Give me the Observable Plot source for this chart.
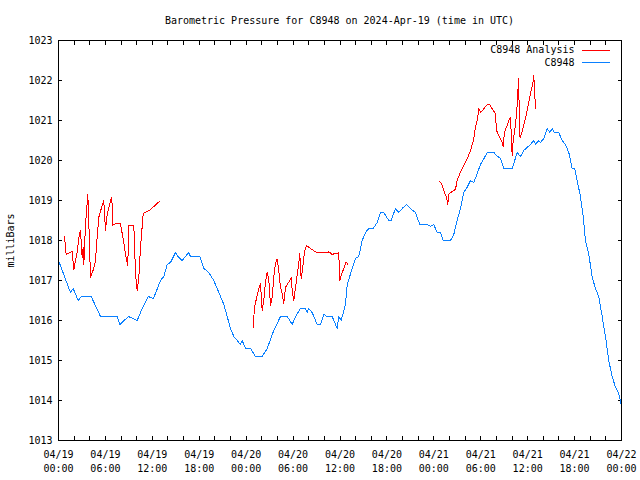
<!DOCTYPE html>
<html>
<head>
<meta charset="utf-8">
<script src="https://cdn.jsdelivr.net/npm/d3@7"></script>
<script src="https://cdn.jsdelivr.net/npm/@observablehq/plot@0.6"></script>
<style>
  html, body { margin: 0; padding: 0; background: #fff; }
  #title { box-sizing: border-box; width: 640px; height: 30px; padding: 15px 19px 0 58px;
           line-height: 12px; text-align: center; font: 10px "DejaVu Sans Mono", monospace; color: #000; white-space: nowrap; }
  svg path, svg rect, svg line { shape-rendering: crispEdges; }
</style>
</head>
<body>
<div id="title"></div>
<div id="chart"></div>
<script>
const titleText = "Barometric Pressure for C8948 on 2024-Apr-19 (time in UTC)";
const yLabel = "milliBars";
const legendLabels = ["C8948 Analysis", "C8948"];
const seriesColors = ["#ff0000", "#0a80ff"];
const yTicks = [1013, 1014, 1015, 1016, 1017, 1018, 1019, 1020, 1021, 1022, 1023];
const startDate = "2024-04-19T00:00:00Z";
const endDate = "2024-04-22T00:00:00Z";

// C8948 observations: hours since 2024-04-19 00:00 UTC, pressure in mb
const obsHours = [0,1.53,1.88,2.52,2.9,4.18,5.37,7.5,7.84,8.95,
  10.06,10.7,11.47,12.15,13.04,13.47,13.9,14.32,14.96,15.26,
  15.82,16.24,16.66,16.88,18.07,18.58,19.22,19.86,20.29,20.72,
  21.14,21.57,22.0,22.42,22.85,23.27,23.49,23.91,24.55,25.19,
  26.05,26.69,27.53,28.39,29.25,29.89,30.31,30.95,31.59,31.8,
  32.01,32.44,33.08,33.5,33.93,34.36,35.0,35.64,35.84,36.15,
  36.7,36.92,37.56,37.98,38.4,38.84,39.26,39.68,40.24,40.75,
  41.18,41.6,42.24,42.54,43.09,43.52,43.95,44.5,45.01,45.65,
  46.2,47.15,47.57,47.99,48.43,48.85,49.19,50.13,50.55,50.98,
  51.41,51.83,52.26,52.69,53.11,53.54,53.96,54.39,54.82,55.67,
  56.18,56.52,56.94,58.02,58.66,59.08,59.5,59.94,60.36,60.78,
  61.0,61.42,61.64,62.06,62.49,62.83,63.13,63.43,63.98,64.41,
  64.83,65.26,65.69,66.02,66.33,66.75,67.1,67.39,67.81,68.25,
  68.67,69.09,69.53,69.95,70.37,70.8,71.23,71.65,71.96];
const obsPressure = [1017.5,1016.7,1016.8,1016.5,1016.6,1016.6,1016.1,1016.1,1015.9,1016.1,
  1016.0,1016.3,1016.6,1016.55,1017.0,1017.1,1017.4,1017.45,1017.7,1017.6,
  1017.5,1017.6,1017.7,1017.6,1017.6,1017.3,1017.2,1017.0,1016.8,1016.6,
  1016.4,1016.1,1015.8,1015.6,1015.5,1015.4,1015.5,1015.3,1015.3,1015.1,
  1015.1,1015.3,1015.75,1016.1,1016.1,1015.9,1016.1,1016.3,1016.3,1016.2,
  1016.3,1016.2,1015.9,1015.9,1016.15,1016.1,1016.1,1015.8,1016.1,1016.0,
  1016.4,1016.9,1017.3,1017.55,1017.6,1018.0,1018.2,1018.3,1018.3,1018.45,
  1018.7,1018.7,1018.5,1018.5,1018.8,1018.7,1018.8,1018.9,1018.8,1018.7,
  1018.4,1018.4,1018.35,1018.4,1018.2,1018.2,1018.0,1018.0,1018.15,1018.5,
  1018.8,1019.2,1019.33,1019.5,1019.45,1019.67,1019.9,1020.04,1020.2,1020.2,
  1020.1,1020.05,1019.8,1019.8,1020.2,1020.1,1020.25,1020.33,1020.4,1020.5,
  1020.4,1020.5,1020.45,1020.55,1020.8,1020.7,1020.8,1020.7,1020.7,1020.5,
  1020.4,1020.2,1019.8,1019.8,1019.5,1019.1,1018.6,1018.0,1017.67,1017.08,
  1016.8,1016.6,1016.1,1015.6,1015.0,1014.6,1014.33,1014.17,1013.9];

// C8948 Analysis: three separate segments
const anaHours1 = [0.77,0.98,1.75,1.96,2.17,2.39,2.6,2.81,3.03,3.16,
  3.24,3.45,3.58,3.75,3.96,4.09,4.51,4.73,4.95,5.15,
  5.59,5.79,6.01,6.23,6.43,6.65,6.82,6.94,7.29,7.93,
  8.15,8.44,8.7,8.86,8.99,9.63,9.85,10.06,10.27,10.49,
  10.83,11.34,11.76,12.19,12.62,12.95];
const anaPressure1 = [1018.1,1017.65,1017.73,1017.27,1017.5,1017.7,1018.08,1018.25,1017.58,1017.83,
  1017.4,1018.4,1018.7,1019.15,1017.96,1017.08,1017.3,1017.5,1018.1,1018.58,
  1018.88,1019.0,1018.25,1018.67,1018.8,1019.0,1019.07,1018.38,1018.42,1018.42,
  1018.17,1017.83,1017.5,1017.38,1018.38,1018.38,1017.17,1016.75,1017.08,1017.83,
  1018.67,1018.73,1018.77,1018.85,1018.93,1018.98];
const anaHours2 = [24.9,25.06,25.41,25.61,25.83,26.05,26.25,26.47,26.69,26.89,
  27.11,27.33,27.53,27.75,27.97,28.17,28.39,28.61,28.81,29.03,
  29.45,29.8,29.89,30.09,30.31,30.52,30.73,30.86,31.04,31.24,
  31.46,31.71,32.01,32.44,33.08,34.36,34.57,35.0,35.42,35.84,
  35.97,36.28,36.48,36.79,37.0];
const anaPressure2 = [1015.83,1016.33,1016.63,1016.8,1016.92,1016.25,1016.5,1016.96,1017.2,1017.03,
  1016.38,1016.58,1017.08,1017.42,1017.54,1017.25,1016.83,1016.67,1016.42,1016.83,
  1016.96,1017.07,1016.71,1016.5,1016.83,1017.13,1017.42,1017.67,1017.04,1017.33,
  1017.71,1017.88,1017.83,1017.77,1017.69,1017.69,1017.72,1017.65,1017.68,1017.69,
  1017.0,1017.2,1017.29,1017.46,1017.4];
const anaHours3 = [48.76,49.07,49.36,49.62,49.78,49.96,50.35,50.77,50.98,51.41,
  51.83,52.26,52.69,53.11,53.32,53.62,53.75,53.96,54.39,54.82,
  55.12,55.46,55.88,56.01,56.31,56.74,56.87,57.03,57.38,57.58,
  57.8,57.93,58.02,58.15,58.44,58.66,58.79,58.86,58.95,59.08,
  59.5,59.94,60.14,60.45,60.7,60.78,60.9,61.0];
const anaPressure3 = [1019.48,1019.38,1019.2,1019.08,1018.9,1019.18,1019.22,1019.28,1019.5,1019.71,
  1019.88,1020.04,1020.25,1020.54,1020.83,1021.08,1021.31,1021.2,1021.29,1021.4,
  1021.4,1021.29,1021.17,1020.75,1020.63,1020.46,1020.35,1020.7,1020.88,1021.0,
  1021.08,1020.54,1020.13,1020.5,1020.88,1021.38,1021.88,1022.04,1020.63,1020.58,
  1020.88,1021.25,1021.46,1021.75,1021.98,1022.13,1021.71,1021.29];

document.getElementById("title").textContent = titleText;

const t0 = new Date(startDate);
const toTime = h => new Date(t0.getTime() + h * 3600e3);
const obs = obsHours.map((h, i) => ({time: toTime(h), p: obsPressure[i]}));
const ana = [[anaHours1, anaPressure1], [anaHours2, anaPressure2], [anaHours3, anaPressure3]]
  .flatMap(([hs, ps], s) => hs.map((h, i) => ({time: toTime(h), p: ps[i], seg: s})));

const fmt = d3.utcFormat("%m/%d\n%H:%M");
const legendLine = {draw(ctx) { ctx.moveTo(-14, 0); ctx.lineTo(14, 0); }};

const legendMarks = legendLabels.flatMap((lab, i) => [
  Plot.text([lab], {text: d => d, frameAnchor: "top-right", lineAnchor: "middle", dx: -47, dy: 9.5 + i * 12.5, textAnchor: "end", fill: "#000"}),
  Plot.dot([lab], {frameAnchor: "top-right", dx: -26, dy: 9.5 + i * 12.5, symbol: legendLine, stroke: seriesColors[i], fill: "none", strokeWidth: 1})
]);

const chart = Plot.plot({
  width: 640,
  height: 450,
  marginLeft: 58,
  marginRight: 19,
  marginTop: 10,
  marginBottom: 40,
  style: {fontFamily: "'DejaVu Sans Mono', monospace", fontSize: "10px", background: "#fff", color: "#000", overflow: "visible"},
  x: {type: "utc", domain: [t0, new Date(endDate)]},
  y: {domain: [1013, 1023]},
  marks: [
    Plot.axisY({ticks: yTicks, tickSize: 0, tickPadding: 6, tickFormat: d => String(d), label: yLabel, labelAnchor: "center", labelOffset: 52, labelArrow: "none"}),
    Plot.axisY({ticks: yTicks, tickSize: -4, fill: "none", label: null}),
    Plot.axisY({anchor: "right", ticks: yTicks, tickSize: -4, fill: "none", label: null}),
    Plot.axisX({ticks: d3.utcHour.every(6), tickSize: 0, tickPadding: 8, tickFormat: fmt, lineHeight: 1.4, label: null}),
    Plot.axisX({ticks: d3.utcHour.every(2), tickSize: -4, fill: "none", label: null}),
    Plot.axisX({anchor: "top", ticks: d3.utcHour.every(2), tickSize: -4, fill: "none", label: null}),
    Plot.lineY(ana, {x: "time", y: "p", z: "seg", stroke: seriesColors[0], strokeWidth: 1}),
    Plot.lineY(obs, {x: "time", y: "p", stroke: seriesColors[1], strokeWidth: 1}),
    Plot.frame({stroke: "#000"}),
    ...legendMarks
  ]
});
document.getElementById("chart").appendChild(chart);
</script>
</body>
</html>
